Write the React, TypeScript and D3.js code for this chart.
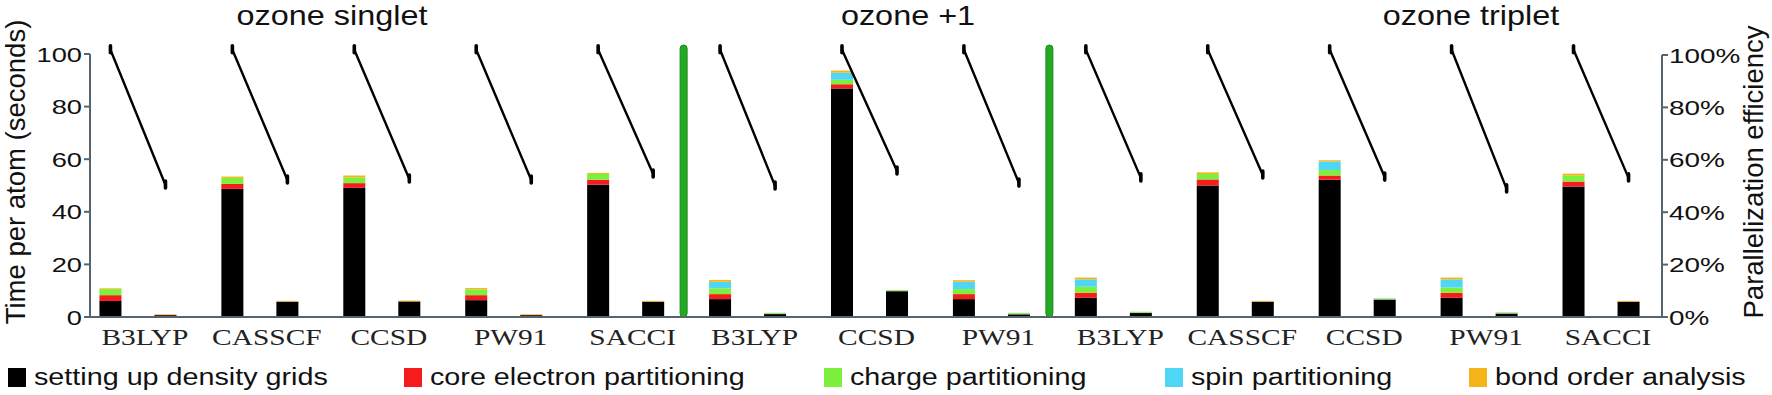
import React from "react";
import * as d3 from "d3";

const W = 1772;
const H = 395;

// methods, in drawing order, with the charge/spin state they belong to
const methods = ["B3LYP", "CASSCF", "CCSD", "PW91", "SACCI", "B3LYP", "CCSD", "PW91", "B3LYP", "CASSCF", "CCSD", "PW91", "SACCI"];
const states = ["singlet", "singlet", "singlet", "singlet", "singlet", "+1", "+1", "+1", "triplet", "triplet", "triplet", "triplet", "triplet"];
const runs = ["serial", "parallel"];

// seconds per atom, two bars per method: [serial, parallel, serial, parallel, ...]
const densityGrids = [6.1, 0.7, 48.7, 5.8, 49.1, 5.9, 6.4, 0.7, 50.3, 5.8, 6.8, 1.1, 86.9, 9.8, 6.8, 1.0, 7.3, 1.5, 50.0, 5.8, 52.2, 6.6, 7.3, 1.3, 49.6, 5.8];
const coreElectron = [2.2, 0.1, 1.9, 0.05, 1.8, 0.05, 1.9, 0.1, 1.9, 0.05, 1.9, 0.05, 1.6, 0.05, 1.9, 0.05, 1.9, 0.05, 2.3, 0.05, 1.6, 0.05, 1.9, 0.05, 1.9, 0.05];
const chargePart = [2.3, 0.1, 2.3, 0.05, 2.2, 0.05, 2.2, 0.1, 2.2, 0.05, 2.2, 0.3, 1.7, 0.3, 1.9, 0.4, 2.3, 0.3, 2.1, 0.05, 2.1, 0.3, 2.0, 0.3, 2.3, 0.05];
const spinPart = [0, 0, 0, 0, 0, 0, 0, 0, 0, 0, 2.5, 0.1, 2.7, 0.1, 2.8, 0.1, 2.8, 0.1, 0, 0, 3.2, 0.15, 3.1, 0.1, 0, 0];
const bondOrder = [0.3, 0.2, 0.5, 0.25, 0.7, 0.25, 0.5, 0.2, 0.4, 0.25, 0.7, 0.05, 0.8, 0.05, 0.6, 0.05, 0.7, 0.05, 0.6, 0.25, 0.5, 0.05, 0.7, 0.05, 0.7, 0.25];

// parallelization efficiency (serial run = 100%)
const efficiency = [0.504, 0.523, 0.527, 0.523, 0.546, 0.5, 0.557, 0.511, 0.531, 0.542, 0.534, 0.489, 0.531];

const seriesNames = ["setting up density grids", "core electron partitioning", "charge partitioning", "spin partitioning", "bond order analysis"];
const seriesColors = ["#000000", "#f41c1c", "#7cf03c", "#4fd6f7", "#f4b41a"];
const seriesData = [densityGrids, coreElectron, chargePart, spinPart, bondOrder];

const groupTitles = ["ozone singlet", "ozone +1", "ozone triplet"];
const leftTicks = [0, 20, 40, 60, 80, 100];
const rightTicks = [0, 0.2, 0.4, 0.6, 0.8, 1];

const sans = "'Liberation Sans', Arial, sans-serif";
const serif = "'Liberation Serif', 'Times New Roman', serif";

const keys = methods.map((m, i) => `${states[i]}-${m}-${i}`);

const rows = keys.flatMap((k, i) =>
  runs.map((r, j) => {
    const row: any = { key: k, run: r };
    seriesNames.forEach((s, si) => {
      row[s] = seriesData[si][i * 2 + j];
    });
    return row;
  })
);

const Stretch = ({ x, y, sx, children, ...rest }: any) => (
  <text transform={`translate(${x},${y}) scale(${sx},1)`} {...rest}>
    {children}
  </text>
);

export default function App() {
  const x0 = d3.scaleBand().domain(keys).range([77, 1662]).paddingInner(0).paddingOuter(0);
  const x1 = d3.scaleBand().domain(runs).range([0, x0.bandwidth()]).paddingInner(0.6).paddingOuter(0.408);
  const y = d3.scaleLinear().domain([0, 100]).range([317, 54]);
  const yR = d3.scaleLinear().domain([0, 1]).range([317, 55]);

  const stacked = d3.stack<any>().keys(seriesNames)(rows);

  const axisColor = "#56646e";
  const axisLeft = 90;
  const axisRight = 1662;

  // separators between state groups
  const sepKeys = [keys[5], keys[8]];
  const titleX = [332, 908, 1471];

  const legendX = [8, 404, 824, 1165, 1469];

  return (
    <svg width={W} height={H} style={{ position: "absolute", left: 0, top: 0, background: "#fff" }}>
      {/* group titles */}
      {groupTitles.map((t, i) => (
        <Stretch key={t} x={titleX[i]} y={25} sx={1.2} textAnchor="middle" fontFamily={sans} fontSize={27} fill="#111">
          {t}
        </Stretch>
      ))}

      {/* bars */}
      {stacked.map((layer, li) => (
        <g key={layer.key} fill={seriesColors[li]}>
          {layer.map((d: any, i: number) => {
            const h = y(d[0]) - y(d[1]);
            if (h <= 0) return null;
            return <rect key={i} x={(x0(d.data.key) as number) + (x1(d.data.run) as number)} y={y(d[1])} width={x1.bandwidth()} height={h} />;
          })}
        </g>
      ))}

      {/* separators */}
      {sepKeys.map((k) => {
        const sx = (x0(k) as number) - 3;
        return <rect key={k} x={sx - 3.5} y={45} width={7} height={317 - 45} rx={3.5} fill="#22aa22" stroke="#1b8a1b" strokeWidth={1} />;
      })}

      {/* parallelization efficiency lines */}
      {keys.map((k, i) => {
        const xa = (x0(k) as number) + (x1(runs[0]) as number) + x1.bandwidth() / 2;
        const xb = (x0(k) as number) + (x1(runs[1]) as number) + x1.bandwidth() / 2;
        const ya = yR(1.02);
        const yb = yR(efficiency[i]);
        return (
          <g key={k} stroke="#000" strokeLinecap="round" fill="none">
            <line x1={xa} y1={ya} x2={xb} y2={yb} strokeWidth={2.4} />
            <line x1={xa} y1={ya - 4} x2={xa} y2={ya + 3} strokeWidth={3.6} />
            <line x1={xb} y1={yb - 4} x2={xb} y2={yb + 3} strokeWidth={3.6} />
          </g>
        );
      })}

      {/* axes */}
      <line x1={axisLeft} y1={y(100)} x2={axisLeft} y2={318} stroke={axisColor} strokeWidth={2} />
      <line x1={axisLeft - 1} y1={317} x2={axisRight} y2={317} stroke={axisColor} strokeWidth={2} />
      <line x1={axisRight} y1={yR(1)} x2={axisRight} y2={318} stroke={axisColor} strokeWidth={2} />
      {leftTicks.map((t) => (
        <g key={t}>
          <line x1={axisLeft - 6} x2={axisLeft} y1={y(t)} y2={y(t)} stroke={axisColor} strokeWidth={2} />
          <Stretch x={82} y={y(t) + 7.5} sx={1.3} textAnchor="end" fontFamily={sans} fontSize={21} fill="#111">
            {t}
          </Stretch>
        </g>
      ))}
      {rightTicks.map((t) => (
        <g key={t}>
          <line x1={axisRight} x2={axisRight + 6} y1={yR(t)} y2={yR(t)} stroke={axisColor} strokeWidth={2} />
          <Stretch x={1669} y={yR(t) + 7.5} sx={1.33} textAnchor="start" fontFamily={sans} fontSize={21} fill="#111">
            {d3.format(".0%")(t)}
          </Stretch>
        </g>
      ))}

      {/* x labels */}
      {keys.map((k, i) => (
        <Stretch key={k} x={(x0(k) as number) + x0.bandwidth() / 2 + 7} y={345} sx={1.28} textAnchor="middle" fontFamily={serif} fontSize={23} fill="#222">
          {methods[i]}
        </Stretch>
      ))}

      {/* axis titles */}
      <text transform={`translate(25,172) rotate(-90)`} textAnchor="middle" fontFamily={sans} fontSize={27.5} fill="#111">
        Time per atom (seconds)
      </text>
      <text transform={`translate(1763,172) rotate(-90)`} textAnchor="middle" fontFamily={sans} fontSize={27.5} fill="#111">
        Parallelization efficiency
      </text>

      {/* legend */}
      {seriesNames.map((s, i) => (
        <g key={s}>
          <rect x={legendX[i]} y={368} width={18} height={19} fill={seriesColors[i]} />
          <Stretch x={legendX[i] + 26} y={385} sx={1.25} fontFamily={sans} fontSize={23} fill="#111">
            {s}
          </Stretch>
        </g>
      ))}
    </svg>
  );
}
